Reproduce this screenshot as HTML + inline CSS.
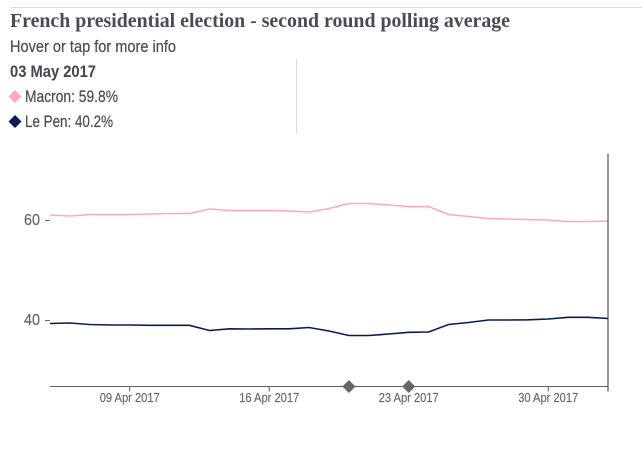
<!DOCTYPE html>
<html>
<head>
<meta charset="utf-8">
<title>French presidential election - second round polling average</title>
<style>
html,body{margin:0;padding:0;background:#fff;width:642px;height:456px;overflow:hidden}
svg{display:block}
text{font-family:"Liberation Sans Narrow","Liberation Sans",sans-serif}
</style>
</head>
<body>
<svg id="chart" width="642" height="456" viewBox="0 0 642 456" xmlns="http://www.w3.org/2000/svg">
  <line x1="10" y1="7.5" x2="642" y2="7.5" stroke="#dedede"/>
  <text x="10" y="27" font-size="19.5" font-weight="700" fill="#4a4a58" style="font-family:'Liberation Serif',serif" textLength="500" lengthAdjust="spacingAndGlyphs">French presidential election - second round polling average</text>
  <text x="10" y="52" font-size="16.5" fill="#4a4a52" stroke="#4a4a52" stroke-width="0.2" textLength="166" lengthAdjust="spacingAndGlyphs">Hover or tap for more info</text>
  <text x="10" y="77" font-size="16.5" font-weight="700" fill="#45454f" textLength="86" lengthAdjust="spacingAndGlyphs">03 May 2017</text>
  <line x1="296.5" y1="59" x2="296.5" y2="134" stroke="#dcdcdc"/>
  <polygon points="15,90 21.5,96.5 15,103 8.5,96.5" fill="#ffa8b6"/>
  <text x="25" y="102" font-size="16.5" fill="#4a4a52" stroke="#4a4a52" stroke-width="0.2" textLength="93" lengthAdjust="spacingAndGlyphs">Macron: 59.8%</text>
  <polygon points="15,115 21.5,121.5 15,128 8.5,121.5" fill="#0a1a52"/>
  <text x="25" y="127" font-size="16.5" fill="#4a4a52" stroke="#4a4a52" stroke-width="0.2" textLength="88" lengthAdjust="spacingAndGlyphs">Le Pen: 40.2%</text>
  <g id="plot"></g>
</svg>
<script>
var macronValues = [61.1,60.9,61.2,61.2,61.2,61.3,61.4,61.4,62.3,62.0,62.0,62.0,61.9,61.7,62.4,63.4,63.4,63.1,62.8,62.8,61.2,60.8,60.4,60.3,60.2,60.1,59.8,59.8,59.9];
var lePenValues = [39.4,39.5,39.2,39.1,39.1,39.05,39.05,39.05,38.0,38.35,38.3,38.35,38.35,38.6,37.9,37.0,37.0,37.3,37.65,37.7,39.2,39.6,40.1,40.1,40.15,40.3,40.65,40.65,40.4];
var yTickValues = [60,40];
var xTickLabels = ["09 Apr 2017","16 Apr 2017","23 Apr 2017","30 Apr 2017"];
var xTickDays = [4,11,18,25];
var eventDays = [15,18];
var cursorDay = 28;

var NS = "http://www.w3.org/2000/svg";
var plot = document.getElementById("plot");
function xScale(day){ return 50 + day * (558 / 28); }
function yScale(v){ return 220.5 - (v - 60) * 5; }
function make(tag, attrs, parent){
  var el = document.createElementNS(NS, tag);
  for (var k in attrs) el.setAttribute(k, attrs[k]);
  (parent || plot).appendChild(el);
  return el;
}
var baseY = 386.5;

var axisLine = make("line", {x1:50, y1:baseY, x2:xScale(cursorDay), y2:baseY, stroke:"#5f5f5f"});



yTickValues.forEach(function(v){
  var t = make("line", {x1:45, y1:yScale(v), x2:50, y2:yScale(v), stroke:"#666"});
  
  
  var l = make("text", {x:24, y:yScale(v)+4.5, "font-size":"16", fill:"#666", stroke:"#666", "stroke-width":"0.2", textLength:"16", lengthAdjust:"spacingAndGlyphs"});
  
  
  l.textContent = v;
});

xTickDays.forEach(function(d, i){
  var t = make("line", {x1:xScale(d), y1:baseY, x2:xScale(d), y2:baseY+5, stroke:"#5f5f5f"});
  
  
  var l = make("text", {x:xScale(d)-30, y:baseY+15.5, "font-size":"13", fill:"#666", stroke:"#666", "stroke-width":"0.15", textLength:"60", lengthAdjust:"spacingAndGlyphs"});
  
  
  l.textContent = xTickLabels[i];
});

function linePoints(values){
  return values.map(function(v, i){ return xScale(i).toFixed(1) + "," + yScale(v).toFixed(1); }).join(" ");
}
var macronLine = make("polyline", {points:linePoints(macronValues), fill:"none", stroke:"#ffa8b6", "stroke-width":"1.6"});


var lePenLine = make("polyline", {points:linePoints(lePenValues), fill:"none", stroke:"#0a1a52", "stroke-width":"1.6"});



var cursor = make("line", {x1:xScale(cursorDay), y1:154, x2:xScale(cursorDay), y2:baseY+5, stroke:"#333"});



eventDays.forEach(function(d){
  var x = xScale(d);
  var m = make("polygon", {points:(x)+","+(baseY-6.5)+" "+(x+6.5)+","+baseY+" "+x+","+(baseY+6.5)+" "+(x-6.5)+","+baseY, fill:"#666"});
  
  
});
</script>
</body>
</html>
